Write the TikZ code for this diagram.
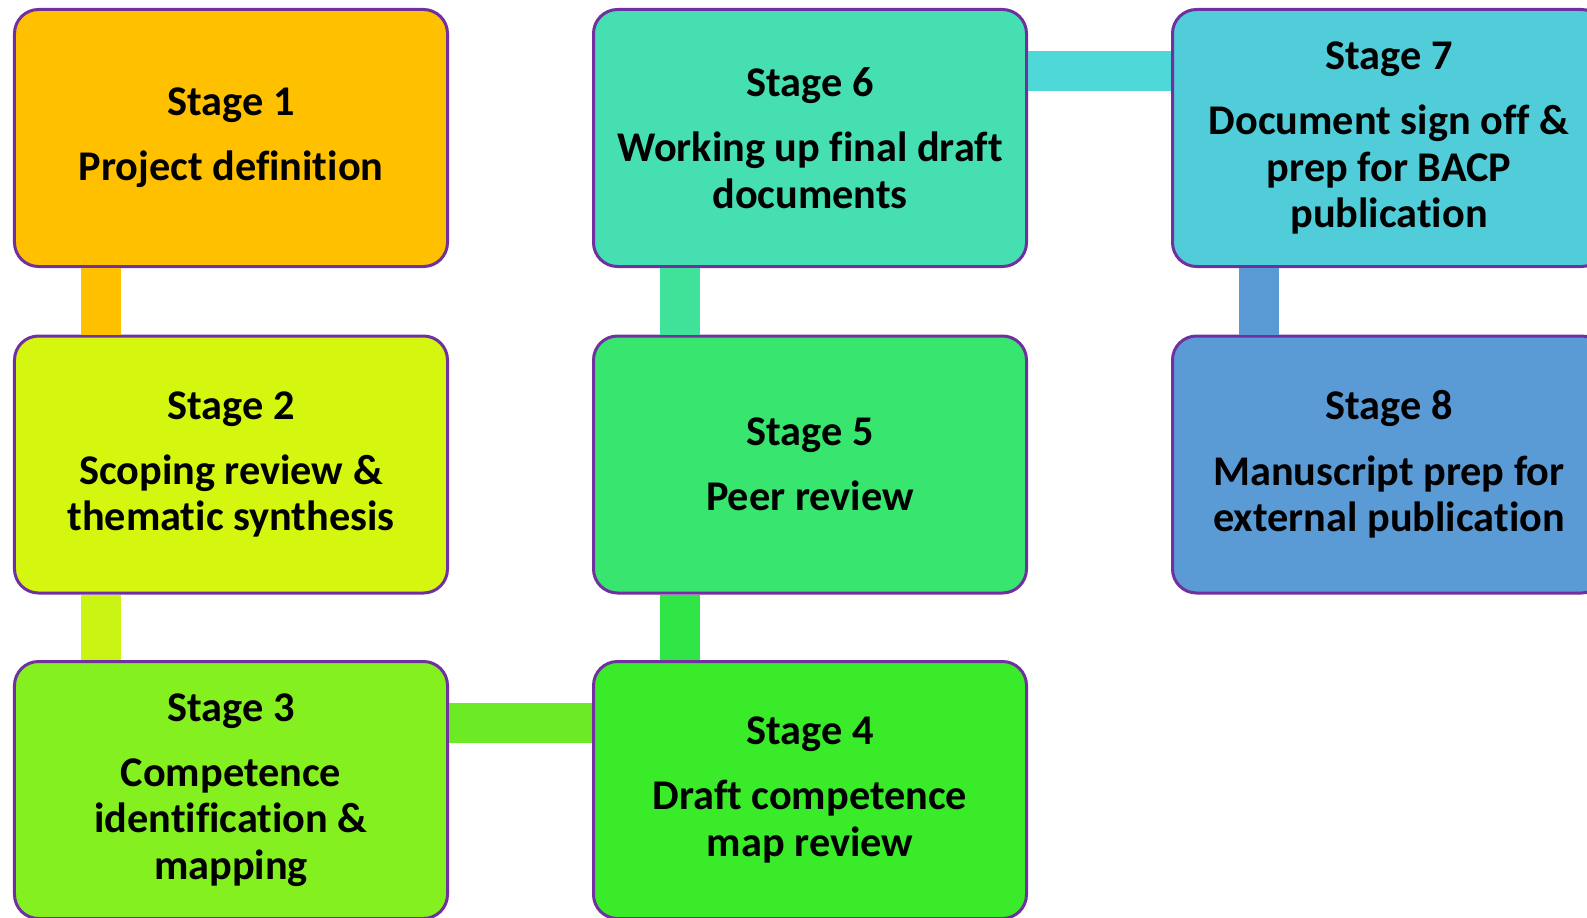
\documentclass[tikz,border=0pt]{standalone}
\usepackage{fontspec}
\setmainfont{Carlito}[RawFeature={-liga;-clig;-calt;-dlig;-rlig}]
\definecolor{bordp}{HTML}{7030A0}
\definecolor{cA}{HTML}{FFC000}
\definecolor{cB}{HTML}{D5F60F}
\definecolor{cC}{HTML}{84F020}
\definecolor{cD}{HTML}{3AEB2A}
\definecolor{cE}{HTML}{38E56E}
\definecolor{cF}{HTML}{46DFB2}
\definecolor{cG}{HTML}{50CDD8}
\definecolor{cH}{HTML}{5B9BD5}
\definecolor{lAB}{HTML}{FFC000}
\definecolor{lBC}{HTML}{CAF514}
\definecolor{lCD}{HTML}{6CEA24}
\definecolor{lDE}{HTML}{30E646}
\definecolor{lEF}{HTML}{40E29A}
\definecolor{lFG}{HTML}{4ED9D8}
\definecolor{lGH}{HTML}{5A9AD4}
\begin{document}
\begin{tikzpicture}[x=1bp,y=-1bp,
  stagebox/.style={draw=bordp, line width=3bp, rounded corners=24bp,
    minimum width=433bp, minimum height=257bp, align=center, inner sep=0pt,
    font=\fontsize{42.3bp}{46.6bp}\selectfont\bfseries, text=black},
  link/.style={line width=40bp}]
\useasboundingbox (0,0) rectangle (1587,917);
\clip (0,0) rectangle (1587,917);
\node[stagebox, fill=cA] (s1) at (231,138) {Stage 1\\[18.5bp]Project definition};
\node[stagebox, fill=cB] (s2) at (231,464.5) {Stage 2\\[18.5bp]Scoping review \&\\thematic synthesis};
\node[stagebox, fill=cC] (s3) at (231,790) {Stage 3\\[18.5bp]Competence\\identification \&\\mapping};
\node[stagebox, fill=cD] (s4) at (810,790) {Stage 4\\[18.5bp]Draft competence\\map review};
\node[stagebox, fill=cE] (s5) at (810,464.5) {Stage 5\\[18.5bp]Peer review};
\node[stagebox, fill=cF] (s6) at (810,138) {Stage 6\\[18.5bp]Working up final draft\\documents};
\node[stagebox, fill=cG] (s7) at (1389,138) {Stage 7\\[18.5bp]Document sign off \&\\prep for BACP\\publication};
\node[stagebox, fill=cH] (s8) at (1389,464.5) {Stage 8\\[18.5bp]Manuscript prep for\\external publication};
\draw[link, lAB] ([xshift=88bp]s1.south west) -- ([xshift=88bp]s2.north west);
\draw[link, lBC] ([xshift=88bp]s2.south west) -- ([xshift=88bp]s3.north west);
\draw[link, lCD] ([yshift=-63bp]s3.north east) -- ([yshift=-63bp]s4.north west);
\draw[link, lDE] ([xshift=88bp]s4.north west) -- ([xshift=88bp]s5.south west);
\draw[link, lEF] ([xshift=88bp]s5.north west) -- ([xshift=88bp]s6.south west);
\draw[link, lFG] ([yshift=-63bp]s6.north east) -- ([yshift=-63bp]s7.north west);
\draw[link, lGH] ([xshift=88bp]s7.south west) -- ([xshift=88bp]s8.north west);
\end{tikzpicture}
\end{document}
